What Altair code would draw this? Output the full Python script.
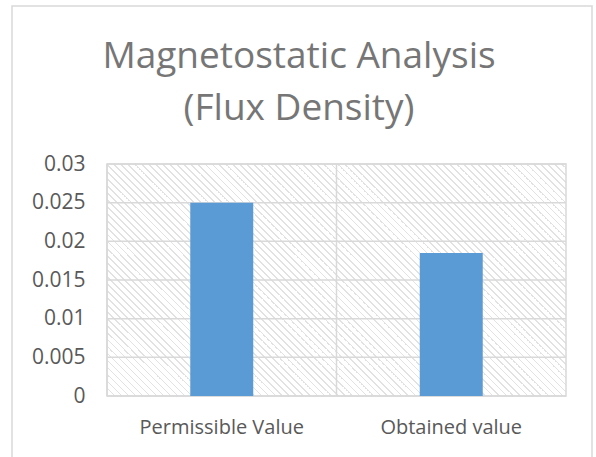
import altair as alt
import pandas as pd

# Chart values
categories = ["Permissible Value", "Obtained value"]
flux_density = [0.025, 0.0185]
y_ticks = [0, 0.005, 0.01, 0.015, 0.02, 0.025, 0.03]
title_lines = ["Magnetostatic Analysis", "(Flux Density)"]

df = pd.DataFrame({"category": categories, "value": flux_density})
ticks_df = pd.DataFrame({"value": y_ticks})

PLOT_W, PLOT_H = 459, 232
GRID = "#d9d9d9"
TEXT = "#595959"
FONT = "Open Sans"

# Diagonal hatch for the plot background, built as a striped linear gradient
# running perpendicular to 45-degree lines in pixel space.
period_px = 7.0
span_px = PLOT_W + PLOT_H
p = period_px / span_px
stripe = 0.28 * p
HATCH = "#e2e2e2"
stops = []
off = 0.0
while off < 1.0:
    a = min(off, 1.0)
    b = min(off + stripe, 1.0)
    c = min(off + p, 1.0)
    stops += [
        alt.GradientStop(offset=a, color=HATCH),
        alt.GradientStop(offset=b, color=HATCH),
        alt.GradientStop(offset=b, color="#ffffff"),
        alt.GradientStop(offset=c, color="#ffffff"),
    ]
    off += p

gx = 1.0
gy = -PLOT_H / PLOT_W
t = (1 - gy) / (gx * gx + gy * gy)
hatch = alt.LinearGradient(
    gradient="linear",
    x1=0, y1=1,
    x2=t * gx, y2=1 + t * gy,
    stops=stops,
)

x_scale = alt.Scale(domain=categories, paddingInner=0, paddingOuter=0)
y_scale = alt.Scale(domain=[0, 0.03], nice=False)

x_enc = alt.X(
    "category:N",
    sort=categories,
    title=None,
    scale=x_scale,
    axis=alt.Axis(
        labelAngle=0,
        labelFont=FONT,
        labelFontSize=20,
        labelColor=TEXT,
        labelPadding=21,
        ticks=False,
        domain=False,
        grid=False,
    ),
)

y_enc = alt.Y(
    "value:Q",
    title=None,
    scale=y_scale,
    axis=alt.Axis(
        values=y_ticks,
        format="~g",
        labelFont=FONT,
        labelFontSize=21,
        labelColor=TEXT,
        labelPadding=22,
        ticks=False,
        domain=False,
        grid=False,
    ),
)

# Hatched plot background with a light border
background = alt.Chart(alt.Data(values=[{}])).mark_rect(
    color=hatch, stroke=GRID, strokeWidth=1.5
).encode(
    x=alt.value(0), x2=alt.value(PLOT_W),
    y=alt.value(0), y2=alt.value(PLOT_H),
)

# Horizontal gridlines at each tick value
h_grid = alt.Chart(ticks_df).mark_rule(color=GRID, strokeWidth=1.5).encode(
    y=alt.Y("value:Q", scale=y_scale, axis=None)
)

# Vertical gridlines on category boundaries
v_grid = alt.Chart(df).mark_rule(color=GRID, strokeWidth=1.5).encode(
    x=alt.X("category:N", sort=categories, scale=x_scale, bandPosition=0, axis=None)
)

bars = alt.Chart(df).mark_bar(color="#5b9bd5", size=63).encode(x=x_enc, y=y_enc)

# Outer chart frame
frame = alt.Chart(alt.Data(values=[{}])).mark_rect(
    fill=None, stroke=GRID, strokeWidth=1.5, clip=False
).encode(
    x=alt.value(-95), x2=alt.value(485),
    y=alt.value(-158), y2=alt.value(310),
)

# Two-line chart title
title = alt.Chart(alt.Data(values=[{}])).mark_text(
    font=FONT,
    fontSize=37,
    color="#767676",
    lineHeight=52,
    align="center",
    baseline="alphabetic",
).encode(
    x=alt.value(192), y=alt.value(-96), text=alt.value(title_lines)
)

chart = alt.layer(frame, background, h_grid, v_grid, bars, title).resolve_axis(
    x="independent", y="independent"
).properties(
    width=PLOT_W,
    height=PLOT_H,
    autosize=alt.AutoSizeParams(type="none"),
    padding={"left": 107, "top": 164, "right": 30, "bottom": 61},
).configure_view(
    stroke=None,
)

chart.save("out.html", embed_options={"renderer": "svg", "actions": False})
